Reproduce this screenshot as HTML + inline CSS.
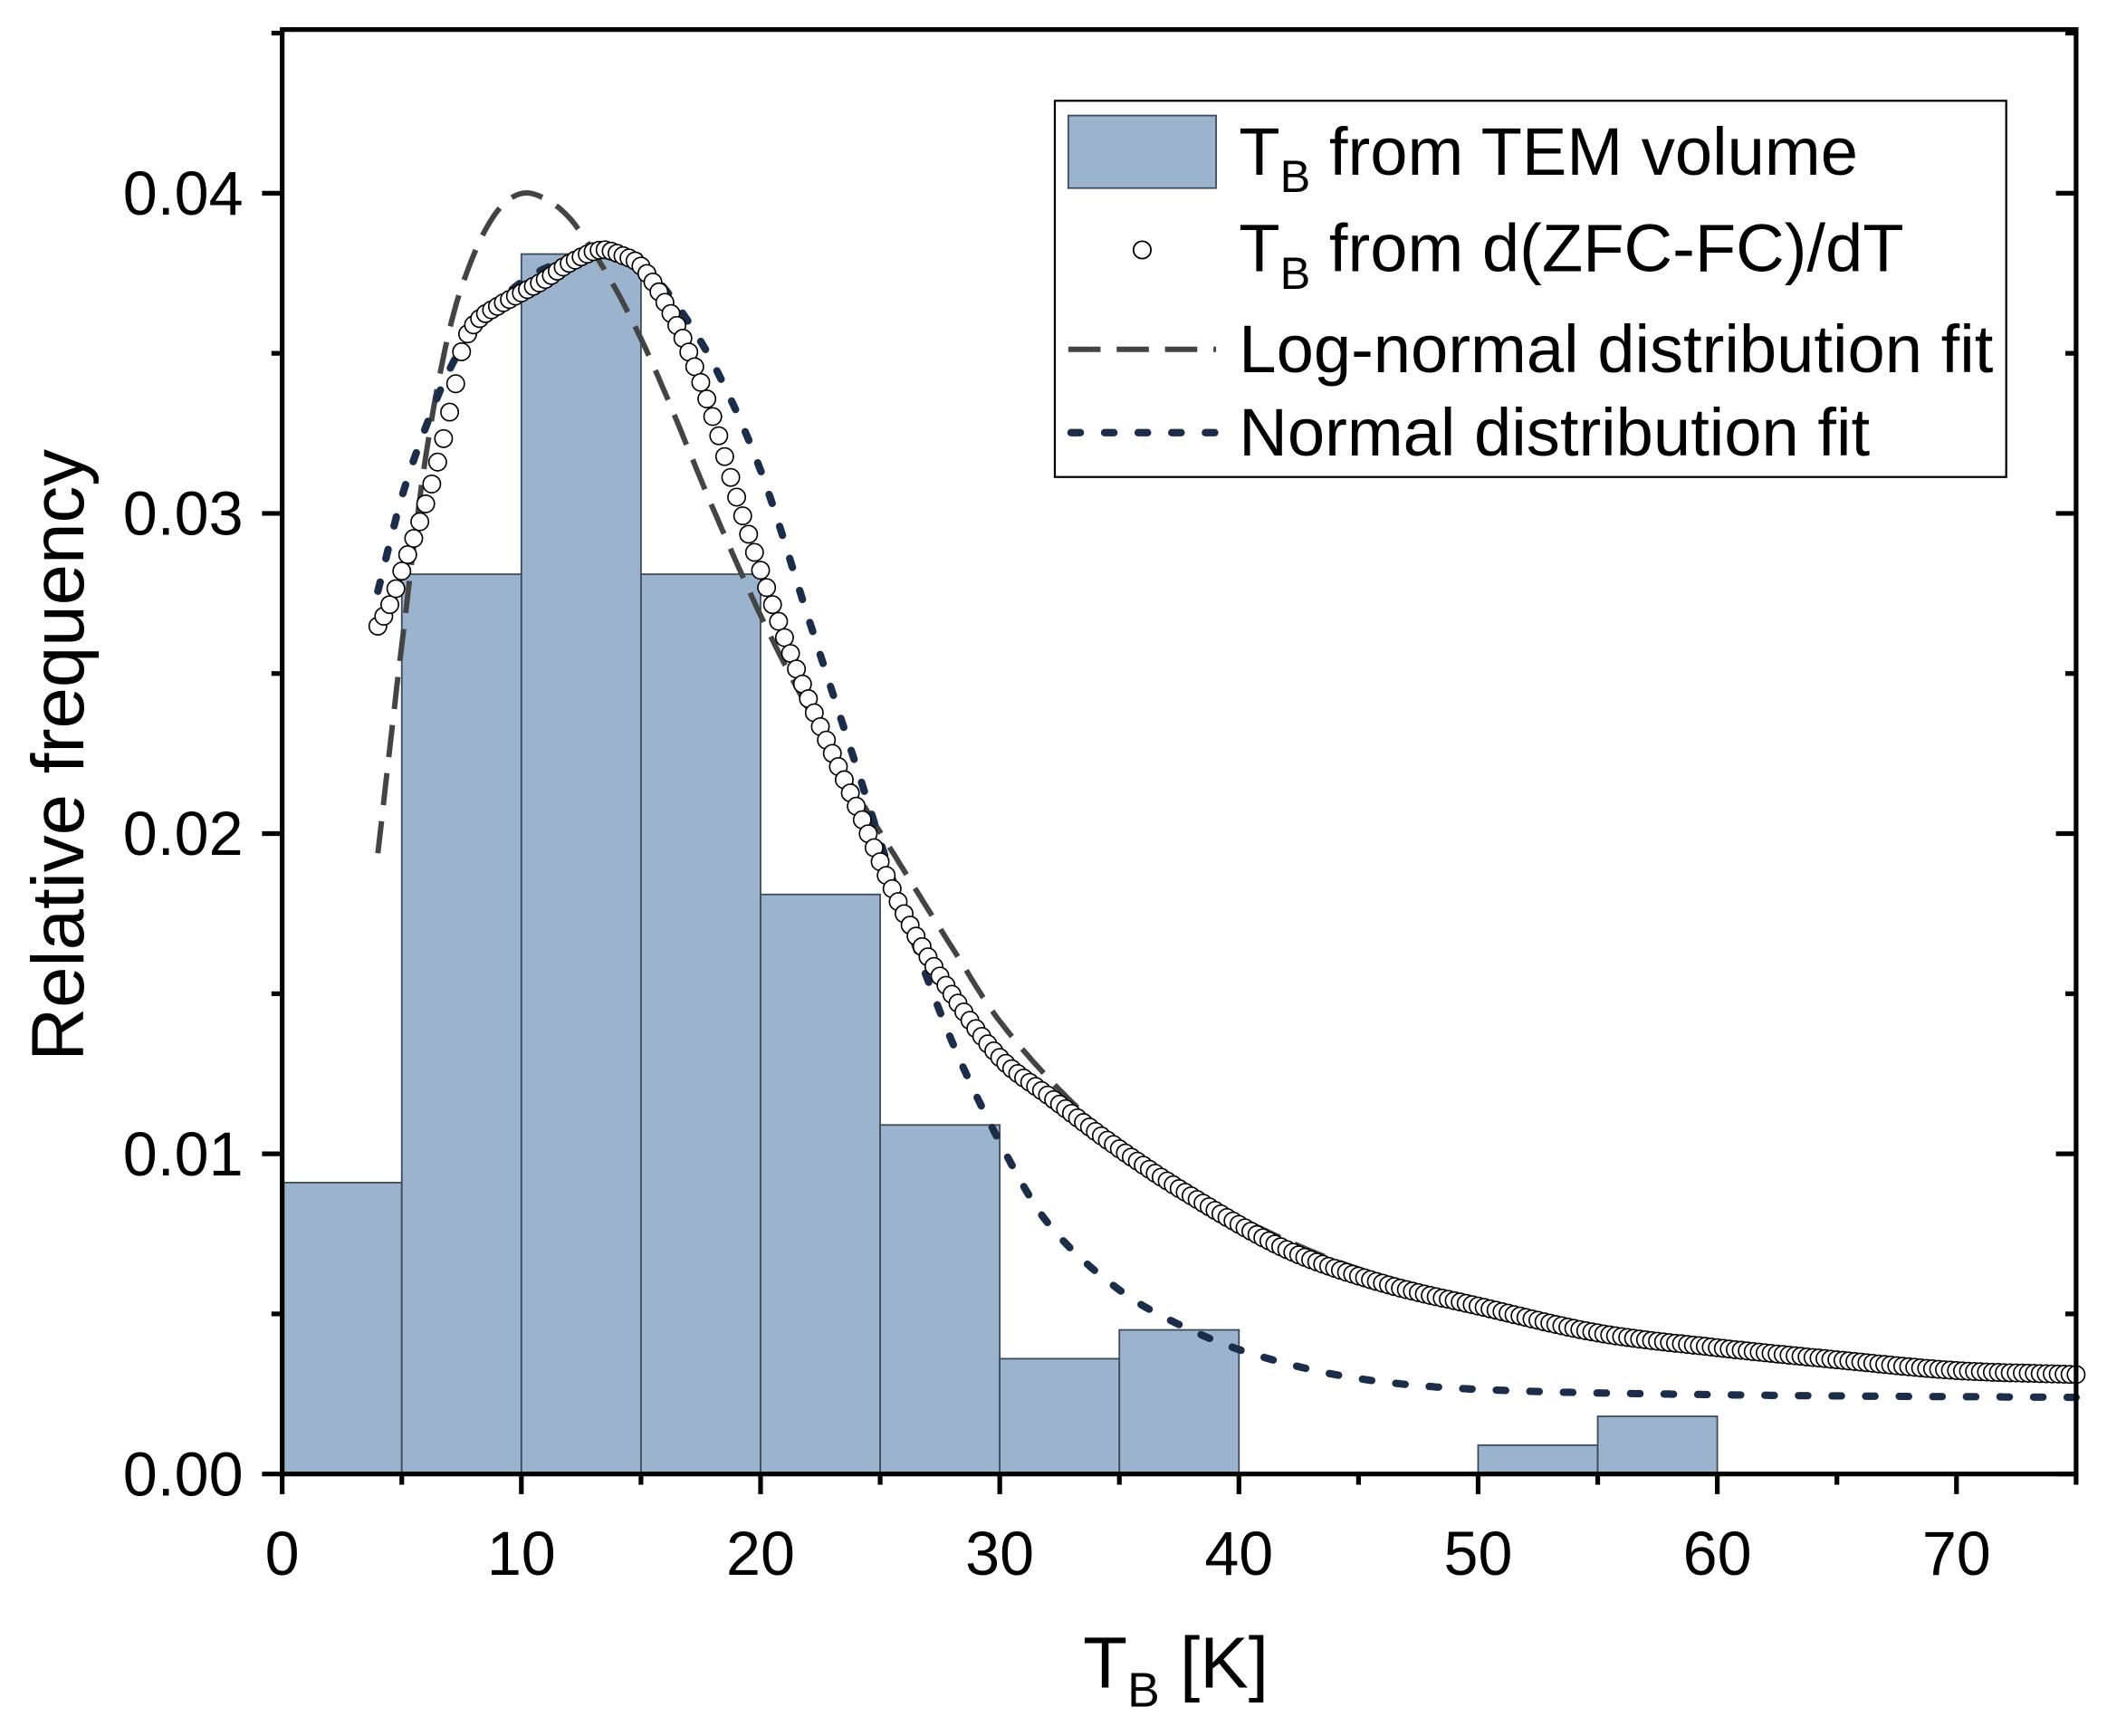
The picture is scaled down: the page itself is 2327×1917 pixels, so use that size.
<!DOCTYPE html>
<html><head><meta charset="utf-8"><style>html,body{margin:0;padding:0;background:#fff}svg{display:block}</style></head>
<body>
<svg id="s" width="2327" height="1917" viewBox="0 0 1568 1292" preserveAspectRatio="none" xmlns="http://www.w3.org/2000/svg" font-family="Liberation Sans, Arial, sans-serif">
<rect width="1568" height="1292" fill="#fff"/>
<g id="bars" fill="#9bb3cc" stroke="#3c4a5c" stroke-width="1.2"></g>
<g id="curves"></g>
<g id="axes" stroke="#000" stroke-width="3.5" fill="none"></g>
<g id="labels" font-size="46" fill="#000"></g>
<text x="62" y="562" font-size="55" transform="rotate(-90 62 562)" text-anchor="middle">Relative frequency</text>
<text x="806" y="1256" font-size="54">T<tspan font-size="36" dy="14">B</tspan><tspan dy="-14"> [K]</tspan></text>
<rect x="785" y="75" width="708" height="280" fill="#fff" stroke="#000" stroke-width="1.5"/>
<rect x="795" y="86" width="110" height="54" fill="#9bb3cc" stroke="#3c4a5c" stroke-width="1.2"/>
<text x="922" y="130" font-size="50">T<tspan font-size="34" dy="13">B</tspan><tspan dy="-13"> from TEM volume</tspan></text>
<circle cx="850" cy="186" r="6.5" fill="#fff" stroke="#000" stroke-width="1.2"/>
<text x="922" y="202" font-size="50">T<tspan font-size="34" dy="13">B</tspan><tspan dy="-13"> from d(ZFC-FC)/dT</tspan></text>
<line x1="795" y1="260" x2="905" y2="260" stroke="#444" stroke-width="4" stroke-dasharray="24,12"/>
<text x="922" y="277" font-size="50">Log-normal distribution fit</text>
<line x1="797" y1="322" x2="905" y2="322" stroke="#1b2d48" stroke-width="5.5" stroke-dasharray="7,18" stroke-linecap="round"/>
<text x="922" y="339" font-size="50">Normal distribution fit</text>
</svg>
<script>
const NS="http://www.w3.org/2000/svg";
const X=t=>210+t*17.8, Y=v=>1097-v*23830;
function el(tag,attrs,parent){const e=document.createElementNS(NS,tag);for(const k in attrs)e.setAttribute(k,attrs[k]);document.getElementById(parent).appendChild(e);return e;}
const bars=[[0,.0091],[5,.0281],[10,.0381],[15,.0281],[20,.0181],[25,.0109],[30,.0036],[35,.0045],[50,.0009],[55,.0018]];
bars.forEach(([t,v])=>el('rect',{x:X(t),y:Y(v),width:17.8*5,height:1097-Y(v)},'bars'));
function interp(pts,t){for(let i=0;i<pts.length-1;i++){if(t>=pts[i][0]&&t<=pts[i+1][0]){
 const p0=pts[Math.max(0,i-1)],p1=pts[i],p2=pts[i+1],p3=pts[Math.min(pts.length-1,i+2)];
 const u=(t-p1[0])/(p2[0]-p1[0]);const m1=(p2[1]-p0[1])/(p2[0]-p0[0])*(p2[0]-p1[0]),m2=(p3[1]-p1[1])/(p3[0]-p1[0])*(p2[0]-p1[0]);
 const h00=2*u*u*u-3*u*u+1,h10=u*u*u-2*u*u+u,h01=-2*u*u*u+3*u*u,h11=u*u*u-u*u;
 return h00*p1[1]+h10*m1+h01*p2[1]+h11*m2;}}return pts[pts.length-1][1];}
function path(pts,step){let d='';for(let t=pts[0][0];t<=75.001;t+=step){d+=(d?'L':'M')+X(t).toFixed(1)+','+interp(pts,t).toFixed(1);}return d;}
const logn=[[4,635],[5,480],[6,340],[7,245],[8,190],[9,157],[10,144],[11,148],[12,162],[13,187],[14,217],[15,252],[16,292],[17,335],[18,378],[20,458],[22,528],[24,590],[26,648],[28,705],[30,760],[33,820],[36,865],[41,915],[46,950],[55.6,990],[65,1012],[75,1025]];
const norm=[[4,440],[5,370],[6,318],[7,275],[8,245],[10,210],[12,193],[13.5,190],[15,200],[16,215],[18,270],[20,350],[22,460],[24,570],[26,680],[28,775],[30,850],[32,910],[35,960],[38,990],[41,1010],[45,1026],[50,1034],[60,1038],[75,1040]];
const circ=[[4,466],[4.5,450],[5,425],[6,375],[6.7,330],[7.2,290],[7.6,255],[8.2,238],[9,228],[10,218],[11,208],[12,196],[13.3,186],[14.2,190],[15,198],[16,225],[17,262],[18,310],[19,370],[20.5,450],[22,520],[24,600],[26,680],[28,740],[30,787],[32,815],[35,855],[38,890],[42,930],[46,955],[50,972],[55,992],[60,1003],[65,1012],[70,1020],[75,1023]];
el('path',{d:path(logn,0.1),fill:'none',stroke:'#444','stroke-width':4,'stroke-dasharray':'24,12'},'curves');
el('path',{d:path(norm,0.1),fill:'none',stroke:'#1b2d48','stroke-width':5.5,'stroke-dasharray':'7,18','stroke-linecap':'round'},'curves');
for(let t=4;t<=75.001;t+=0.25){el('circle',{cx:X(t).toFixed(1),cy:interp(circ,t).toFixed(1),r:6.5,fill:'#fff',stroke:'#000','stroke-width':1.1},'curves');}
el('rect',{x:210,y:22,width:1335,height:1075},'axes');
for(let t=0;t<=75;t+=5){const major=t%10==0;el('line',{x1:X(t),y1:1097,x2:X(t),y2:major?1112:1105},'axes');
 if(major){const tx=el('text',{x:X(t),y:1172,'text-anchor':'middle'},'labels');tx.textContent=t;}}
for(let i=0;i<=9;i++){const v=i*0.005,y=Y(v),major=i%2==0;
 el('line',{x1:major?195:202,y1:y,x2:210,y2:y},'axes');
 el('line',{x1:1545,y1:y,x2:major?1530:1537,y2:y},'axes');
 if(major){const tx=el('text',{x:181,y:y+16,'text-anchor':'end'},'labels');tx.textContent=v.toFixed(2);}}
</script>
</body></html>
